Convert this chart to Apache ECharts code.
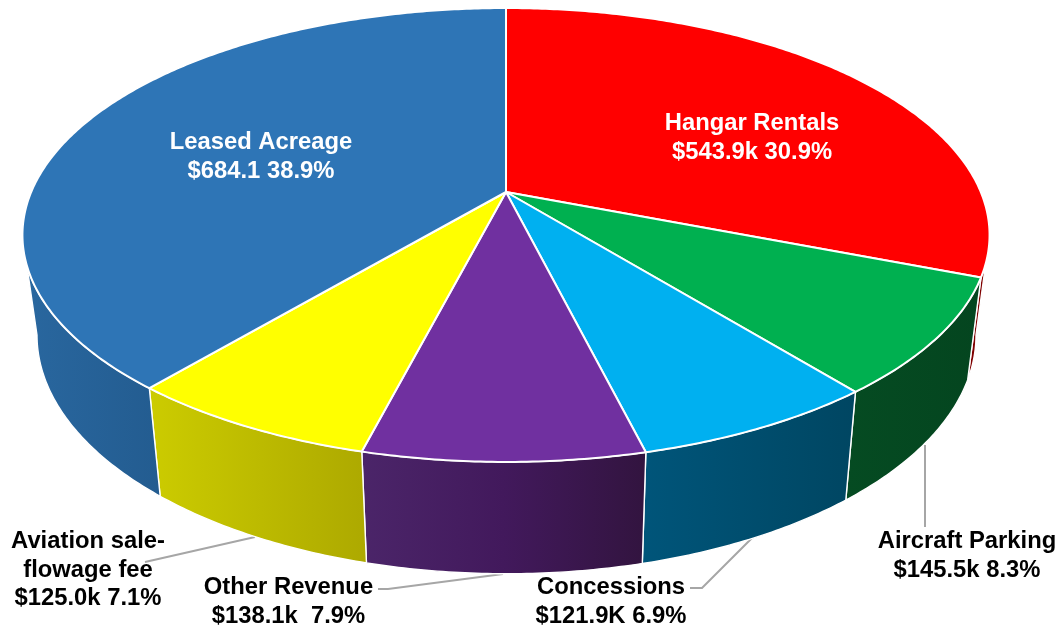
<!DOCTYPE html>
<html>
<head>
<meta charset="utf-8">
<style>html,body{margin:0;padding:0;background:#fff}#c{width:1062px;height:627px}</style>
<script src="https://cdn.jsdelivr.net/npm/echarts@6/dist/echarts.min.js"></script>
</head>
<body>
<div id="c"></div>
<script>
// Data
const categories = ['Hangar Rentals', 'Aircraft Parking', 'Concessions', 'Other Revenue', 'Aviation sale-\nflowage fee', 'Leased Acreage'];
const amounts = [543.9, 145.5, 121.9, 138.1, 125.0, 684.1];
const amountLabels = ['$543.9k 30.9%', '$145.5k 8.3%', '$121.9K 6.9%', '$138.1k  7.9%', '$125.0k 7.1%', '$684.1 38.9%'];

// Styles
const topColors = ['#FF0000', '#00B050', '#00B0F0', '#7030A0', '#FFFF00', '#2E75B6'];
const wallStops = [
  ['#7F0000', '#7F0000'],
  ['#054B22', '#04451F'],
  ['#00557A', '#004662'],
  ['#4B2569', '#42195C', '#32143F'],
  ['#CCCC00', '#ADA900'],
  ['#29679F', '#235C90']
];
const labelColors = ['#FFFFFF', '#000000', '#000000', '#000000', '#000000', '#FFFFFF'];
const labelCenters = [[752, 138], [967, 556], [611, 602], [288.5, 602], [88, 570], [261, 157]];
const leaders = [
  null,
  [[925, 527], [925, 445]],
  [[690, 588], [702, 588], [752, 538]],
  [[378, 589], [388, 589], [503, 574]],
  [[145, 562], [255, 537]],
  null
];

// Perspective of the pie disc: top rim and bottom rim
const P = 0.1894;
const TOP = { cx: 506, cy: 192, a: 474.8, b: 218.8 };
const BOT = { cx: 506.5, cy: 290, a: 461, b: 230 };
const total = amounts.reduce((s, v) => s + v, 0);
const starts = [];
amounts.reduce((s, v, i) => (starts[i] = s, s + v), 0);

function project(rim, theta) {
  const u = Math.sin(theta), v = -Math.cos(theta), d = 1 - P * v;
  return [rim.cx + rim.a * u / d, rim.cy + rim.b * v / d];
}
function angleOf(x) { return x / total * Math.PI * 2; }
function arc(rim, t0, t1) {
  const n = Math.max(2, Math.ceil(Math.abs(t1 - t0) / 0.01));
  const pts = [];
  for (let i = 0; i <= n; i++) pts.push(project(rim, t0 + (t1 - t0) * i / n));
  return pts;
}
const FRONT0 = Math.PI / 2 + Math.asin(P), FRONT1 = Math.PI * 1.5 - Math.asin(P);

function renderWall(params, api) {
  const i = params.dataIndex;
  const t0 = Math.max(angleOf(starts[i]), FRONT0);
  const t1 = Math.min(angleOf(starts[i] + api.value(0)), FRONT1);
  if (t1 <= t0) return { type: 'group', children: [] };
  const pts = arc(TOP, t0, t1).concat(arc(BOT, t1, t0));
  const stops = wallStops[i].map((c, k, a) => ({ offset: k / (a.length - 1), color: c }));
  return {
    type: 'polygon',
    shape: { points: pts },
    style: {
      fill: new echarts.graphic.LinearGradient(0, 0, 1, 0, stops),
      stroke: '#FFFFFF', lineWidth: 1.4, lineJoin: 'round'
    }
  };
}
function renderTop(params, api) {
  const i = params.dataIndex;
  const t0 = angleOf(starts[i]), t1 = angleOf(starts[i] + api.value(0));
  const pts = [[TOP.cx, TOP.cy]].concat(arc(TOP, t0, t1));
  return {
    type: 'polygon',
    shape: { points: pts },
    style: { fill: topColors[i], stroke: '#FFFFFF', lineWidth: 2, lineJoin: 'round' }
  };
}
function renderLeader(params) {
  const l = leaders[params.dataIndex];
  if (!l) return { type: 'group', children: [] };
  return {
    type: 'polyline',
    shape: { points: l },
    style: { fill: null, stroke: '#A6A6A6', lineWidth: 2 }
  };
}
function renderLabel(params) {
  const i = params.dataIndex;
  const c = labelCenters[i];
  return {
    type: 'text',
    style: {
      text: categories[i] + '\n' + amountLabels[i],
      x: c[0], y: c[1],
      align: 'center', verticalAlign: 'middle',
      fill: labelColors[i],
      font: 'bold 23.8px "Liberation Sans", Arial, sans-serif',
      lineHeight: 28.5
    }
  };
}
const rows = amounts.map(v => [v]);
function layer(name, fn, z) {
  return { type: 'custom', name, coordinateSystem: 'none', renderItem: fn, data: rows, z, silent: true, animation: false, clip: false };
}
const chart = echarts.init(document.getElementById('c'), null, { renderer: 'canvas' });
chart.setOption({
  animation: false,
  backgroundColor: '#FFFFFF',
  series: [
    layer('leaders', renderLeader, 1),
    layer('walls', renderWall, 2),
    layer('tops', renderTop, 3),
    layer('labels', renderLabel, 4)
  ]
});
</script>
</body>
</html>
